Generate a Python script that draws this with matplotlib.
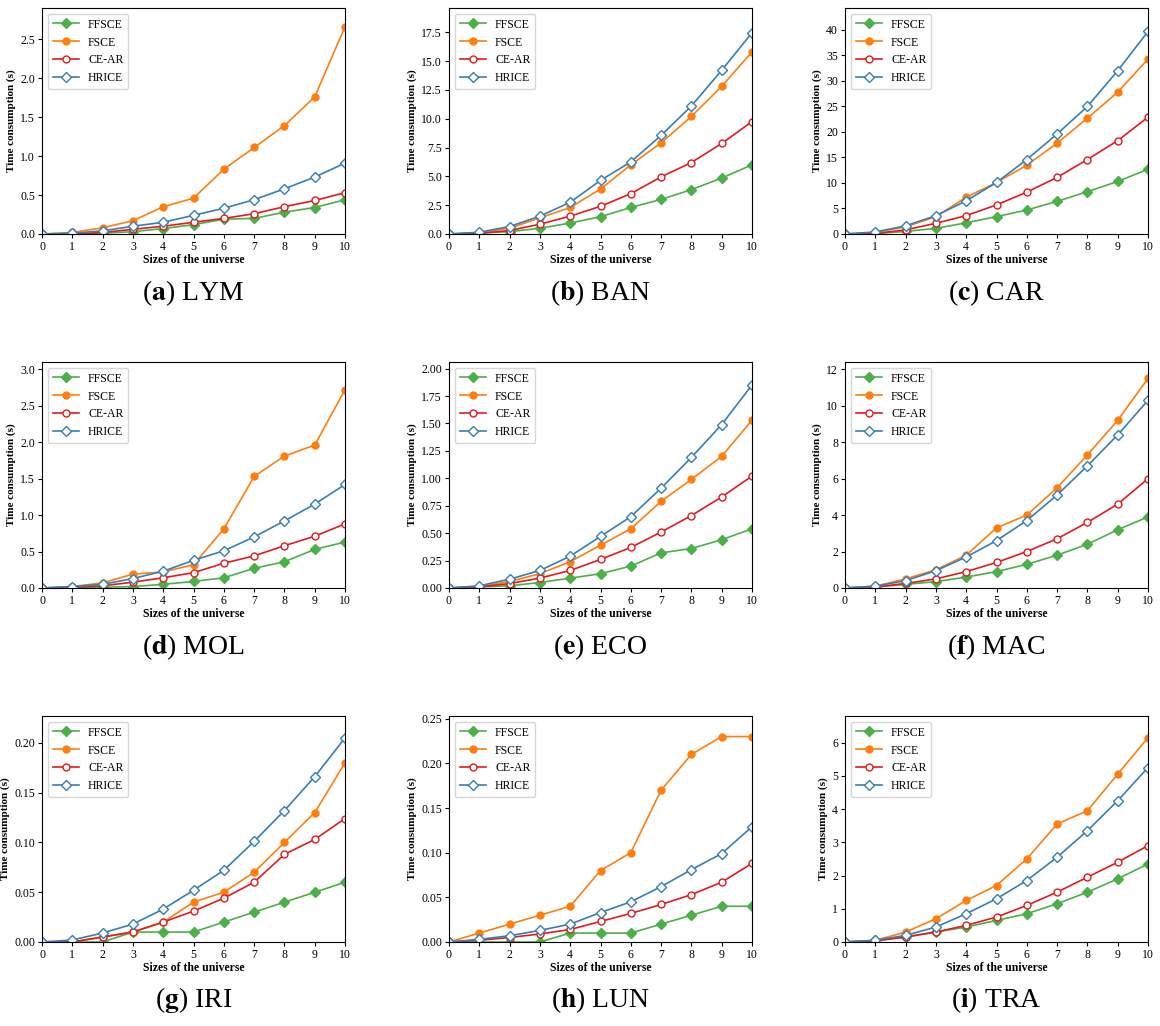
import matplotlib
matplotlib.use("Agg")
import matplotlib.pyplot as plt

x = list(range(11))
names = ["LYM", "BAN", "CAR", "MOL", "ECO", "MAC", "IRI", "LUN", "TRA"]
letters = ["a", "b", "c", "d", "e", "f", "g", "h", "i"]
series_names = ["FFSCE", "FSCE", "CE-AR", "HRICE"]
ytops = [2.9, 19.6, 44.3, 3.1, 2.06, 12.4, 0.227, 0.253, 6.8]

LYM_FFSCE = [0,0,0.01,0.03,0.07,0.12,0.19,0.2,0.28,0.34,0.44]
LYM_FSCE = [0,0.02,0.08,0.17,0.35,0.46,0.83,1.11,1.39,1.76,2.66]
LYM_CEAR = [0,0,0.02,0.06,0.1,0.15,0.2,0.26,0.35,0.43,0.53]
LYM_HRICE = [0,0.01,0.04,0.1,0.15,0.24,0.33,0.44,0.58,0.73,0.91]

BAN_FFSCE = [0,0.1,0.2,0.5,0.95,1.5,2.3,3.0,3.85,4.85,6.0]
BAN_FSCE = [0,0.1,0.5,1.4,2.3,3.9,6.0,7.9,10.2,12.8,15.8]
BAN_CEAR = [0,0.05,0.3,0.85,1.55,2.4,3.5,4.95,6.2,7.85,9.75]
BAN_HRICE = [0,0.15,0.65,1.55,2.75,4.65,6.25,8.55,11.1,14.2,17.45]

CAR_FFSCE = [0,0.1,0.5,1.1,2.2,3.4,4.7,6.4,8.3,10.3,12.7]
CAR_FSCE = [0,0.3,1.4,3.4,7.2,10.1,13.5,17.8,22.7,27.8,34.3]
CAR_CEAR = [0,0.1,0.8,2.1,3.6,5.7,8.2,11.1,14.6,18.3,22.9]
CAR_HRICE = [0,0.4,1.6,3.6,6.5,10.1,14.6,19.6,25,32,39.7]

MOL_FFSCE = [0,0,0.01,0.02,0.05,0.09,0.14,0.27,0.36,0.53,0.63]
MOL_FSCE = [0,0.02,0.07,0.19,0.22,0.32,0.81,1.53,1.81,1.96,2.72]
MOL_CEAR = [0,0.01,0.03,0.08,0.14,0.21,0.34,0.44,0.58,0.71,0.88]
MOL_HRICE = [0,0.02,0.05,0.13,0.23,0.38,0.51,0.7,0.92,1.15,1.42]

ECO_FFSCE = [0,0.01,0.02,0.05,0.09,0.13,0.2,0.32,0.36,0.44,0.54]
ECO_FSCE = [0,0.01,0.06,0.13,0.24,0.39,0.54,0.79,0.99,1.2,1.53]
ECO_CEAR = [0,0.01,0.04,0.09,0.16,0.26,0.37,0.51,0.66,0.83,1.02]
ECO_HRICE = [0,0.02,0.08,0.16,0.29,0.47,0.65,0.91,1.19,1.49,1.85]

MAC_FFSCE = [0,0.05,0.2,0.35,0.6,0.9,1.3,1.8,2.4,3.2,3.9]
MAC_FSCE = [0,0.1,0.5,1.0,1.8,3.3,4.0,5.5,7.3,9.2,11.5]
MAC_CEAR = [0,0.05,0.25,0.5,0.9,1.4,2.0,2.7,3.6,4.6,6.0]
MAC_HRICE = [0,0.1,0.4,0.95,1.7,2.6,3.7,5.1,6.7,8.4,10.3]

IRI_FFSCE = [0,0,0,0.01,0.01,0.01,0.02,0.03,0.04,0.05,0.06]
IRI_FSCE = [0,0,0.005,0.01,0.02,0.04,0.05,0.07,0.1,0.13,0.18]
IRI_CEAR = [0,0,0.005,0.01,0.02,0.031,0.044,0.06,0.088,0.103,0.124]
IRI_HRICE = [0,0.002,0.009,0.018,0.033,0.052,0.072,0.101,0.132,0.166,0.205]

LUN_FFSCE = [0,0,0,0,0.01,0.01,0.01,0.02,0.03,0.04,0.04]
LUN_FSCE = [0,0.01,0.02,0.03,0.04,0.08,0.1,0.17,0.21,0.23,0.23]
LUN_CEAR = [0,0.002,0.005,0.009,0.014,0.023,0.032,0.042,0.053,0.067,0.088]
LUN_HRICE = [0,0.003,0.007,0.013,0.02,0.033,0.045,0.062,0.081,0.099,0.129]

TRA_FFSCE = [0,0.05,0.15,0.3,0.45,0.65,0.85,1.15,1.5,1.9,2.35]
TRA_FSCE = [0,0.05,0.3,0.7,1.25,1.7,2.5,3.55,3.95,5.05,6.15]
TRA_CEAR = [0,0.03,0.15,0.3,0.5,0.75,1.1,1.5,1.95,2.4,2.9]
TRA_HRICE = [0,0.05,0.2,0.45,0.85,1.3,1.85,2.55,3.35,4.25,5.25]

data = {
    "LYM": (LYM_FFSCE, LYM_FSCE, LYM_CEAR, LYM_HRICE),
    "BAN": (BAN_FFSCE, BAN_FSCE, BAN_CEAR, BAN_HRICE),
    "CAR": (CAR_FFSCE, CAR_FSCE, CAR_CEAR, CAR_HRICE),
    "MOL": (MOL_FFSCE, MOL_FSCE, MOL_CEAR, MOL_HRICE),
    "ECO": (ECO_FFSCE, ECO_FSCE, ECO_CEAR, ECO_HRICE),
    "MAC": (MAC_FFSCE, MAC_FSCE, MAC_CEAR, MAC_HRICE),
    "IRI": (IRI_FFSCE, IRI_FSCE, IRI_CEAR, IRI_HRICE),
    "LUN": (LUN_FFSCE, LUN_FSCE, LUN_CEAR, LUN_HRICE),
    "TRA": (TRA_FFSCE, TRA_FSCE, TRA_CEAR, TRA_HRICE),
}

styles = [
    dict(color="#4daf4a", marker="D", markerfacecolor="#4daf4a"),
    dict(color="#ff7f0e", marker="o", markerfacecolor="#ff7f0e"),
    dict(color="#e41a1c", marker="o", markerfacecolor="white"),
    dict(color="#377eb8", marker="D", markerfacecolor="white"),
]

plt.rcParams["font.family"] = ["Liberation Serif", "DejaVu Serif"]
plt.rcParams["mathtext.fontset"] = "stix"
W, H = 1160, 1026
fig = plt.figure(figsize=(11.6, 10.26), dpi=100)

col_x = [42, 449, 845]
row_y = [(8, 234), (362, 588), (716, 942)]
aw = 303
cap_y = [293, 647, 1000]

for i, name in enumerate(names):
    r, c = divmod(i, 3)
    top, bot = row_y[r]
    ax = fig.add_axes([col_x[c] / W, 1 - bot / H, aw / W, (bot - top) / H])
    for s, lab, st in zip(data[name], series_names, styles):
        ax.plot(x, s, label=lab, lw=1.2, markersize=5, markeredgewidth=1.0, **st)
    ax.set_xlim(0, 10)
    ax.set_ylim(0, ytops[i])
    ax.set_xticks(x)
    ax.tick_params(labelsize=8.5, length=3, pad=2)
    ax.set_xlabel("Sizes of the universe", fontsize=8.5, fontweight="bold", labelpad=1)
    ax.set_ylabel("Time consumption (s)", fontsize=8, fontweight="bold", labelpad=3)
    ax.legend(loc="upper left", fontsize=8.5, handlelength=2.2, framealpha=0.8)
    fig.text((col_x[c] + aw / 2) / W, 1 - cap_y[i // 3] / H,
             r"($\mathbf{%s}$) %s" % (letters[i], name),
             ha="center", va="center", fontsize=20)

fig.savefig("out.png", dpi=100)
